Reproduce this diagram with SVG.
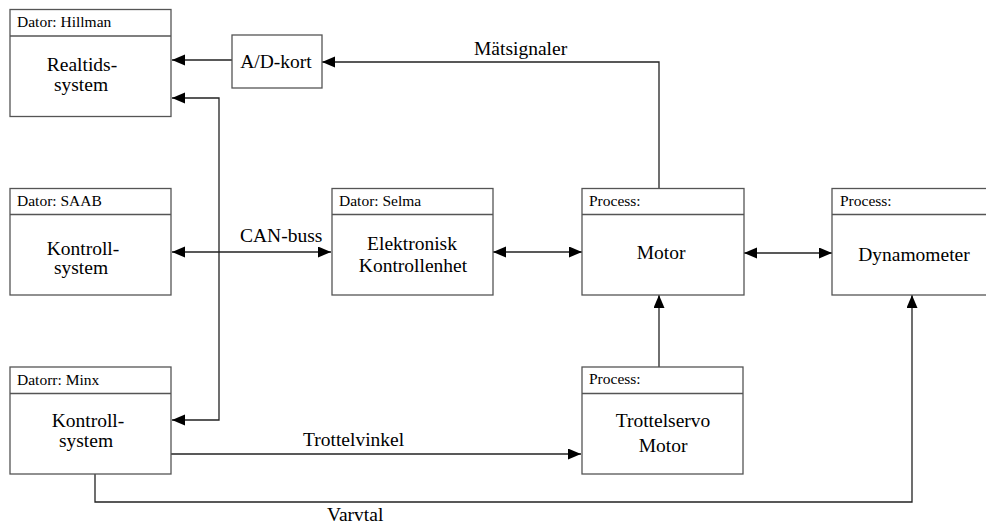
<svg xmlns="http://www.w3.org/2000/svg" width="986" height="529" viewBox="0 0 986 529" font-family="'Liberation Serif', Tinos, 'Times New Roman', Times, 'Nimbus Roman', 'Nimbus Roman No9 L', FreeSerif, 'Noto Serif', 'DejaVu Serif', serif">
<style>
.box{fill:#fff;stroke:#555;stroke-width:1.3}
.hl{stroke:#555;stroke-width:1.3}
text{fill:#000}
.hd{font-size:15.5px}
.bd{font-size:19.5px;text-anchor:middle}
.lb{font-size:19.5px}
.c{fill:none;stroke:#222;stroke-width:1.3}
</style>
<defs>
<marker id="ah" markerUnits="userSpaceOnUse" markerWidth="14" markerHeight="12" refX="13" refY="5.5" orient="auto-start-reverse">
<path d="M0,0 L13,5.5 L0,11 Z" fill="#000"/>
</marker>
</defs>
<g id="connectors">
<line class="c" x1="232" y1="60" x2="172" y2="60" marker-end="url(#ah)"/>
<polyline class="c" points="659,188 659,62 322,62" marker-end="url(#ah)"/>
<polyline class="c" points="172,98 219,98 219,420 172,420" marker-start="url(#ah)" marker-end="url(#ah)"/>
<line class="c" x1="172" y1="252" x2="331" y2="252" marker-start="url(#ah)" marker-end="url(#ah)"/>
<line class="c" x1="493" y1="252" x2="582" y2="252" marker-start="url(#ah)" marker-end="url(#ah)"/>
<line class="c" x1="744" y1="253" x2="832" y2="253" marker-start="url(#ah)" marker-end="url(#ah)"/>
<line class="c" x1="659" y1="367" x2="659" y2="295" marker-end="url(#ah)"/>
<line class="c" x1="171" y1="454" x2="581" y2="454" marker-end="url(#ah)"/>
<polyline class="c" points="95,474 95,502 912,502 912,295" marker-end="url(#ah)"/>
<text class="lb" x="474" y="55">Mätsignaler</text>
<text class="lb" x="240" y="242">CAN-buss</text>
<text class="lb" x="303" y="446">Trottelvinkel</text>
<text class="lb" x="327" y="521">Varvtal</text>
</g>
<g id="hillman">
<rect class="box" x="10" y="9.5" width="161" height="107"/>
<line class="hl" x1="10" y1="36" x2="171" y2="36"/>
<text class="hd" x="17" y="27">Dator: Hillman</text>
<text class="bd" x="82" y="71">Realtids-</text>
<text class="bd" x="81" y="91">system</text>
</g>
<g id="adkort">
<rect class="box" x="232" y="35" width="90" height="53"/>
<text class="bd" x="276" y="68">A/D-kort</text>
</g>
<g id="saab">
<rect class="box" x="10" y="188.5" width="161" height="106.5"/>
<line class="hl" x1="10" y1="214.5" x2="171" y2="214.5"/>
<text class="hd" x="17" y="206">Dator: SAAB</text>
<text class="bd" x="83" y="255">Kontroll-</text>
<text class="bd" x="81" y="274">system</text>
</g>
<g id="minx">
<rect class="box" x="10" y="367" width="161" height="107"/>
<line class="hl" x1="10" y1="393.5" x2="171" y2="393.5"/>
<text class="hd" x="17" y="385">Datorr: Minx</text>
<text class="bd" x="88" y="427">Kontroll-</text>
<text class="bd" x="86" y="447">system</text>
</g>
<g id="selma">
<rect class="box" x="332" y="188.5" width="161" height="106.5"/>
<line class="hl" x1="332" y1="214.5" x2="493" y2="214.5"/>
<text class="hd" x="339" y="206">Dator: Selma</text>
<text class="bd" x="412" y="250">Elektronisk</text>
<text class="bd" x="413" y="272">Kontrollenhet</text>
</g>
<g id="motor">
<rect class="box" x="582" y="188.5" width="162" height="106.5"/>
<line class="hl" x1="582" y1="214.5" x2="744" y2="214.5"/>
<text class="hd" x="589" y="206">Process:</text>
<text class="bd" x="661" y="259">Motor</text>
</g>
<g id="dynamometer">
<rect class="box" x="832" y="188.5" width="161" height="106.5"/>
<line class="hl" x1="832" y1="214.5" x2="993" y2="214.5"/>
<text class="hd" x="840" y="206">Process:</text>
<text class="bd" x="914" y="261">Dynamometer</text>
</g>
<g id="trottelservo">
<rect class="box" x="582" y="367" width="161" height="107"/>
<line class="hl" x1="582" y1="393.5" x2="743" y2="393.5"/>
<text class="hd" x="589" y="384">Process:</text>
<text class="bd" x="663" y="427">Trottelservo</text>
<text class="bd" x="663" y="452">Motor</text>
</g>
</svg>
